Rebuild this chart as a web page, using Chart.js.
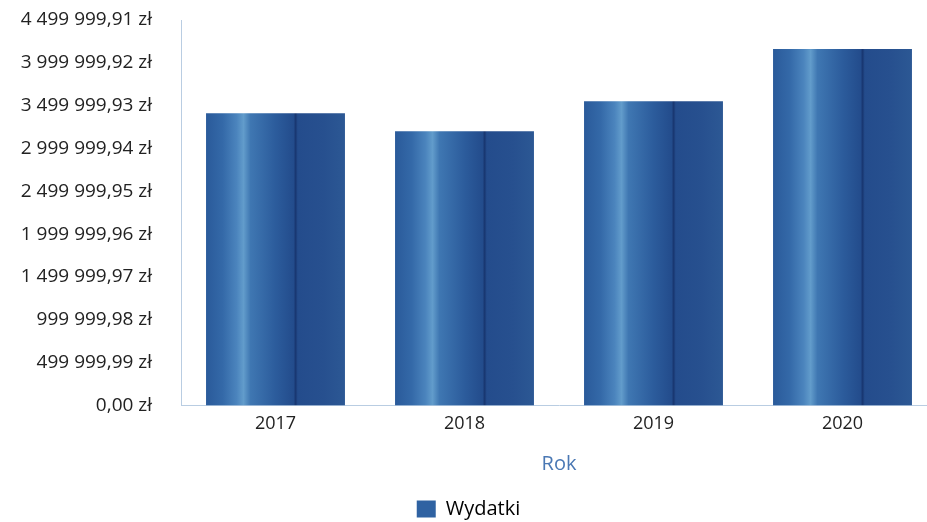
<!DOCTYPE html>
<html>
<head>
<meta charset="utf-8">
<script src="https://cdn.jsdelivr.net/npm/chart.js@4"></script>
<style>
  html, body { margin: 0; padding: 0; background: #fff; overflow: hidden; }
  #wrap { width: 944px; height: 522px; }
</style>
</head>
<body>
<div id="wrap"><canvas id="wydatkiChart"></canvas></div>
<script>
// dane z wykresu
const lata = ['2017', '2018', '2019', '2020'];
const wydatki = [3410000, 3200000, 3550000, 4160000];
const yTicks = [0, 499999.99, 999999.98, 1499999.97, 1999999.96, 2499999.95, 2999999.94, 3499999.93, 3999999.92, 4499999.91];

// format: 4 499 999,91 zł
function formatZl(v) {
    const parts = Number(v).toFixed(2).split('.');
    parts[0] = parts[0].replace(/\B(?=(\d{3})+(?!\d))/g, ' ');
    return parts[0] + ',' + parts[1] + ' zł';
}

// gradient "walca" dla slupka
function gradientSlupka(ctx, x0, x1) {
    const g = ctx.createLinearGradient(x0, 0, x1, 0);
    g.addColorStop(0, '#2a5a9a');
    g.addColorStop(0.12, '#3469a8');
    g.addColorStop(0.22, '#4b84bd');
    g.addColorStop(0.27, '#629ccb');
    g.addColorStop(0.32, '#3f77b2');
    g.addColorStop(0.5, '#2c5c9c');
    g.addColorStop(0.63, '#234c8c');
    g.addColorStop(0.645, '#183670');
    g.addColorStop(0.66, '#244c8c');
    g.addColorStop(0.85, '#27508f');
    g.addColorStop(1, '#2c5894');
    return g;
}

const barPct = 0.735;

const config = {
    type: 'bar',
    data: {
        labels: lata,
        datasets: [{
            label: 'Wydatki',
            data: wydatki,
            backgroundColor: function (context) {
                const chart = context.chart;
                if (!chart.chartArea || context.dataIndex === undefined) return '#2c5c9c';
                const xs = chart.scales.x;
                const c = xs.getPixelForValue(context.dataIndex);
                const w = xs.width / lata.length * barPct;
                return gradientSlupka(chart.ctx, c - w / 2, c + w / 2);
            },
            borderWidth: 0,
            categoryPercentage: 1,
            barPercentage: barPct
        }]
    },
    options: {
        responsive: true,
        maintainAspectRatio: false,
        animation: false,
        layout: { padding: { top: 20, right: 7, left: 0, bottom: -7 } },
        plugins: {
            tooltip: { enabled: false },
            legend: {
                position: 'bottom',
                labels: {
                    boxWidth: 19,
                    boxHeight: 17,
                    padding: 0,
                    color: '#222',
                    font: { family: 'Open Sans', size: 20 },
                    generateLabels: function (chart) {
                        return [{
                            text: 'Wydatki',
                            fillStyle: '#2f62a2',
                            strokeStyle: '#2f62a2',
                            lineWidth: 0,
                            datasetIndex: 0
                        }];
                    }
                }
            }
        },
        scales: {
            x: {
                grid: { display: false, drawTicks: false },
                border: { color: '#b9cde2', width: 1 },
                ticks: {
                    color: '#222',
                    padding: 8,
                    font: { family: 'Open Sans', size: 18 }
                },
                title: {
                    display: true,
                    text: 'Rok',
                    color: '#4a78b4',
                    font: { family: 'Open Sans', size: 20 },
                    padding: { top: 9, bottom: 23 }
                }
            },
            y: {
                min: 0,
                max: 4499999.91,
                grid: { display: false, drawTicks: false },
                border: { color: '#b9cde2', width: 1 },
                afterBuildTicks: function (scale) {
                    scale.ticks = yTicks.map(v => ({ value: v }));
                },
                afterFit: function (scale) {
                    scale.width = 181;
                    scale.paddingTop = 0;
                    scale.paddingBottom = 0;
                },
                ticks: {
                    color: '#222',
                    padding: 29,
                    font: { family: 'Open Sans', size: 19 },
                    callback: function (value) {
                        return formatZl(value);
                    }
                }
            }
        }
    }
};

// Wykres tworzen
const wydatkiChart = new Chart(document.getElementById('wydatkiChart'), config);
</script>
</body>
</html>
